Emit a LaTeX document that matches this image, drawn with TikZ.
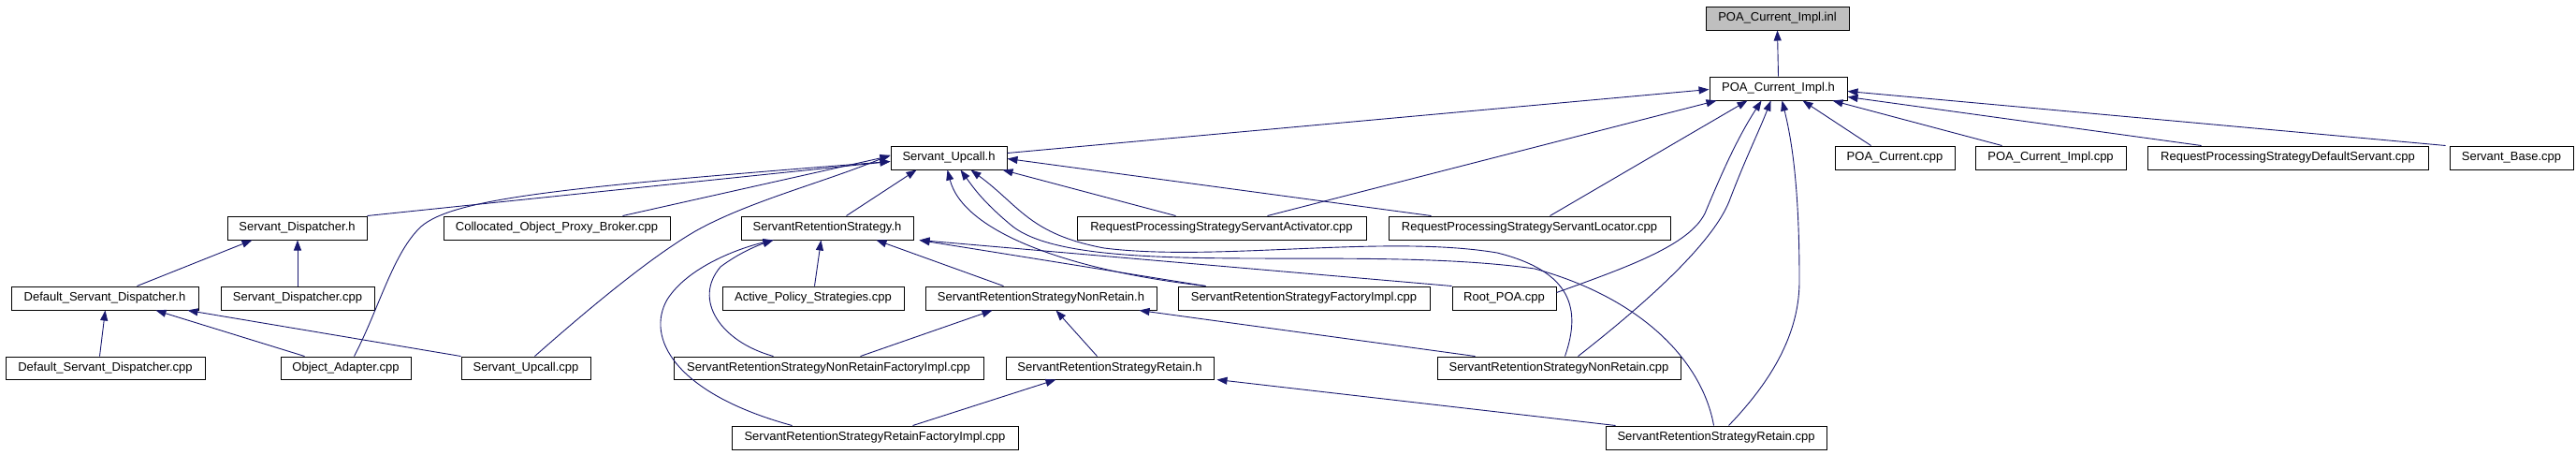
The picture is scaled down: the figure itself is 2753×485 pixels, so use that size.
\documentclass[tikz,border=0pt]{standalone}
\usepackage{fontspec}
\setmainfont{Liberation Sans}
\usetikzlibrary{arrows.meta}
\definecolor{edgec}{RGB}{25,25,112}
\definecolor{inlfill}{RGB}{191,191,191}
\tikzset{
  e/.style={draw=edgec, line width=0.9pt, -{Triangle[length=11pt,width=8pt]}},
  box/.style={draw=black, line width=1pt, inner sep=0pt, font=\fontsize{13}{15}\selectfont, fill=white}
}
\newcommand{\bx}[6]{\node[box, minimum width=#4pt-#2pt, minimum height=#5pt-#3pt] (#1) at ({(#2+#4)/2},{(#3+#5)/2}) {#6};}
\begin{document}
\begin{tikzpicture}[x=1pt,y=-1pt]
\useasboundingbox[fill=white] (0,0) rectangle (2753,485);
% nodes
\bx{inl}{1823}{7}{1976}{32}{POA\_Current\_Impl.inl}
\node[box, fill=inlfill, minimum width=153pt, minimum height=25pt] at (inl) {POA\_Current\_Impl.inl};
\bx{pcih}{1827}{82}{1974}{107}{POA\_Current\_Impl.h}
\bx{suh}{952}{156}{1076}{181}{Servant\_Upcall.h}
\bx{pccpp}{1961}{156}{2089}{181}{POA\_Current.cpp}
\bx{pcicpp}{2111}{156}{2272}{181}{POA\_Current\_Impl.cpp}
\bx{rpsds}{2295}{156}{2595}{181}{RequestProcessingStrategyDefaultServant.cpp}
\bx{sb}{2618}{156}{2750}{181}{Servant\_Base.cpp}
\bx{sdh}{243}{231}{392}{256}{Servant\_Dispatcher.h}
\bx{copb}{474}{231}{716}{256}{Collocated\_Object\_Proxy\_Broker.cpp}
\bx{srsh}{792}{231}{976}{256}{ServantRetentionStrategy.h}
\bx{rpssa}{1151}{231}{1460}{256}{RequestProcessingStrategyServantActivator.cpp}
\bx{rpssl}{1484}{231}{1785}{256}{RequestProcessingStrategyServantLocator.cpp}
\bx{dsdh}{12}{306}{212}{331}{Default\_Servant\_Dispatcher.h}
\bx{sdcpp}{236}{306}{400}{331}{Servant\_Dispatcher.cpp}
\bx{aps}{772}{306}{966}{331}{Active\_Policy\_Strategies.cpp}
\bx{srsnrh}{989}{306}{1236}{331}{ServantRetentionStrategyNonRetain.h}
\bx{srsfi}{1259}{306}{1528}{331}{ServantRetentionStrategyFactoryImpl.cpp}
\bx{rootpoa}{1552}{306}{1663}{331}{Root\_POA.cpp}
\bx{dsdcpp}{6}{381}{219}{405}{Default\_Servant\_Dispatcher.cpp}
\bx{oacpp}{300}{381}{439}{405}{Object\_Adapter.cpp}
\bx{sucpp}{493}{381}{631}{405}{Servant\_Upcall.cpp}
\bx{srsnrfi}{720}{381}{1051}{405}{ServantRetentionStrategyNonRetainFactoryImpl.cpp}
\bx{srsrh}{1075}{381}{1297}{405}{ServantRetentionStrategyRetain.h}
\bx{srsnrcpp}{1536}{381}{1796}{405}{ServantRetentionStrategyNonRetain.cpp}
\bx{srsrfi}{782}{455}{1088}{480}{ServantRetentionStrategyRetainFactoryImpl.cpp}
\bx{srsrcpp}{1716}{455}{1952}{480}{ServantRetentionStrategyRetain.cpp}
% edges to POA_Current_Impl.inl / .h
\draw[e] (pcih.north) -- (inl.south);
\draw[e] ([yshift=5]suh.east) -- ([yshift=-1]pcih.west);
\draw[e] ([xshift=204]rpssa.north west) -- ([xshift=8]pcih.south west);
\draw[e] ([xshift=173]rpssl.north west) -- ([xshift=41]pcih.south west);
\draw[e] ([yshift=6]rootpoa.east) .. controls (1740,285) and (1805,262) .. (1822,228) .. controls (1838,190) and (1855,150) .. ([xshift=56]pcih.south west);
\draw[e] ([xshift=151]srsnrcpp.north west) .. controls (1760,323) and (1830,260) .. (1848,215) .. controls (1865,170) and (1880,140) .. ([xshift=66]pcih.south west);
\draw[e] ([xshift=132]srsrcpp.north west) .. controls (1900,400) and (1923,350) .. (1923,300) .. controls (1923,200) and (1915,150) .. ([xshift=78]pcih.south west);
\draw[e] ([xshift=39]pccpp.north west) -- ([xshift=-48]pcih.south east);
\draw[e] ([xshift=29]pcicpp.north west) -- ([xshift=-16]pcih.south east);
\draw[e] ([xshift=58]rpsds.north west) -- ([yshift=-9]pcih.east);
\draw[e] ([xshift=-4]sb.north west) -- ([yshift=-3]pcih.east);
% edges to Servant_Upcall.h
\draw[e] (sdh.north east) -- ([yshift=-4]suh.west);
\draw[e] ([xshift=79]oacpp.north west) .. controls (405,330) and (420,270) .. (450,242) .. controls (485,212) and (600,200) .. ([yshift=-4]suh.west);
\draw[e] ([xshift=192]copb.north west) -- ([yshift=2]suh.west);
\draw[e] ([xshift=79]sucpp.north west) .. controls (640,320) and (700,272) .. (743,247) .. controls (800,215) and (880,195) .. ([yshift=3]suh.west);
\draw[e] ([xshift=113]srsh.north west) -- ([xshift=28]suh.south west);
\draw[e] ([xshift=106]rpssa.north west) -- ([xshift=-5]suh.south east);
\draw[e] ([xshift=46]rpssl.north west) -- ([yshift=-1]suh.east);
\draw[e] ([xshift=30]srsfi.north west) .. controls (1150,290) and (1030,250) .. ([xshift=61]suh.south west);
\draw[e] ([xshift=116]srsrcpp.north west) .. controls (1820,390) and (1760,320) .. (1640,287) .. controls (1450,260) and (1150,300) .. (1080,240) .. controls (1050,215) and (1040,200) .. ([xshift=75]suh.south west);
\draw[e] ([xshift=137]srsnrcpp.north west) .. controls (1690,330) and (1680,290) .. (1600,270) .. controls (1480,250) and (1300,280) .. (1180,265) .. controls (1100,250) and (1090,220) .. ([xshift=86]suh.south west);
% edges to ServantRetentionStrategy.h
\draw[e] ([xshift=99]aps.north west) -- ([xshift=86]srsh.south west);
\draw[e] ([xshift=84]srsnrh.north west) -- ([xshift=-40]srsh.south east);
\draw[e] ([xshift=107]srsnrfi.north west) .. controls (770,365) and (740,320) .. (770,285) .. controls (790,270) and (810,262) .. ([xshift=35]srsh.south west);
\draw[e] ([xshift=65]srsrfi.north west) .. controls (720,420) and (690,360) .. (713,320) .. controls (735,285) and (790,265) .. ([xshift=35]srsh.south west);
\draw[e] (rootpoa.north west) -- ([xshift=6]srsh.south east);
\draw[e] ([xshift=30]srsfi.north west) -- ([xshift=6]srsh.south east);
% edges to NonRetain.h / Retain.h
\draw[e] ([xshift=200]srsnrfi.north west) -- ([xshift=72]srsnrh.south west);
\draw[e] ([xshift=98]srsrh.north west) -- ([xshift=140]srsnrh.south west);
\draw[e] ([xshift=41]srsnrcpp.north west) -- ([xshift=-19]srsnrh.south east);
\draw[e] ([xshift=194]srsrfi.north west) -- ([xshift=54]srsrh.south west);
\draw[e] ([xshift=11]srsrcpp.north west) -- ([xshift=3]srsrh.south east);
% dispatcher edges
\draw[e] ([xshift=135]dsdh.north west) -- ([xshift=27]sdh.south west);
\draw[e] (sdcpp.north) -- (sdcpp.north |- sdh.south);
\draw[e] ([xshift=101]dsdcpp.north west) -- ([xshift=101]dsdh.south west);
\draw[e] ([xshift=26]oacpp.north west) -- ([xshift=155]dsdh.south west);
\draw[e] (sucpp.north west) -- ([xshift=-12]dsdh.south east);
\end{tikzpicture}
\end{document}
